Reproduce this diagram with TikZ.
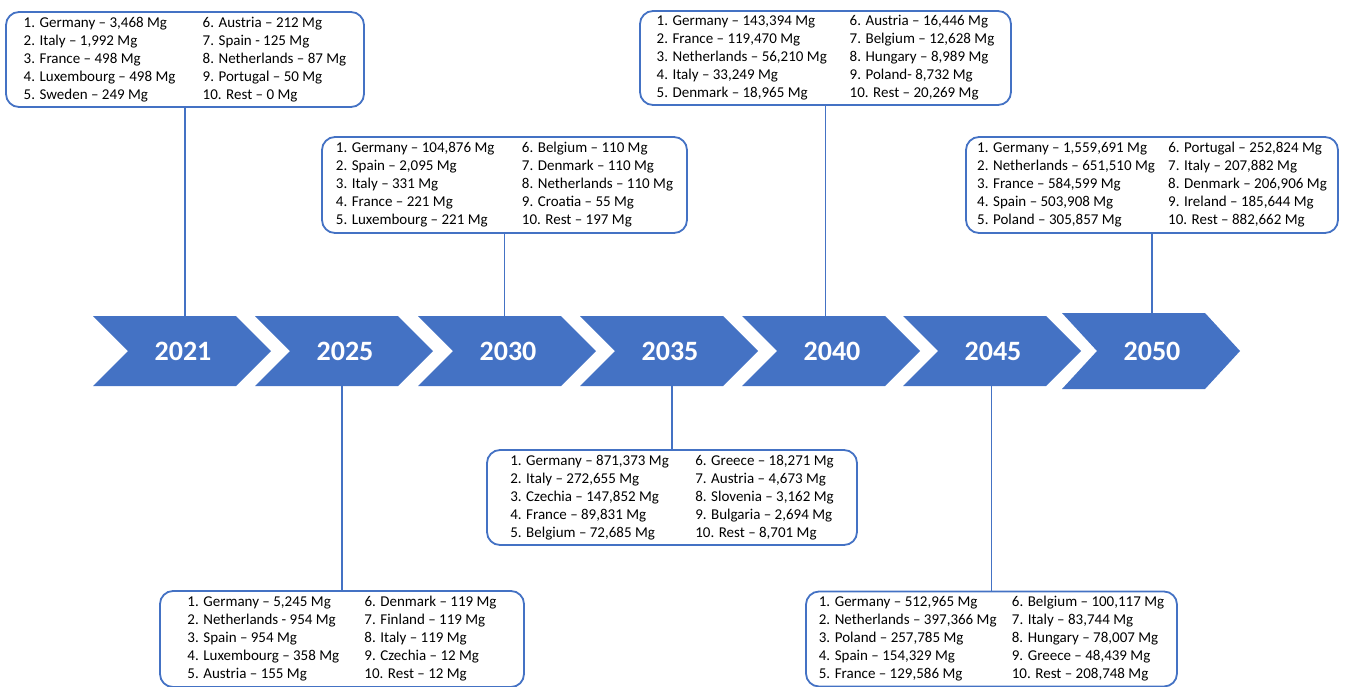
\documentclass[tikz,border=0pt]{standalone}
\usepackage{fontspec}
\setmainfont{Carlito}
\usepackage{array}
\definecolor{chevblue}{HTML}{4472C4}

% two columns of a yearly ranking
\newcommand{\ranking}[2]{%
  \begin{tabular}{@{}p{#1pt}@{}l@{}}#2\end{tabular}}

\tikzset{
  chevron/.style={fill=chevblue},
  yearlabel/.style={minimum width=177pt, minimum height=70pt, inner sep=0pt,
    text=white, font=\fontsize{28}{30}\selectfont\bfseries},
  listbox/.style={draw=chevblue, line width=1.8pt, rounded corners=13pt,
    fill=white, inner sep=0pt, font=\fontsize{15}{18}\selectfont},
  link/.style={draw=chevblue, line width=1.8pt}
}

\begin{document}
\begin{tikzpicture}[x=1pt, y=-1pt]
	\useasboundingbox (0,0) rectangle (1347,686);

	% Draw the arrows of the timeline
	\foreach \yr/\x/\t/\h in {2021/93/316/70, 2025/255/316/70, 2030/418/316/70,
		2035/580/316/70, 2040/742/316/70, 2045/903/316/70, 2050/1062/313/76} {
		\fill[chevron] (\x,\t) -- ++(143,0) -- ++(35,\h/2) -- ++(-35,\h/2)
			-- ++(-143,0) -- ++(35,-\h/2) -- cycle;
		\node[yearlabel, minimum height=\h] (c\yr) at (\x+90,\t+\h/2) {\yr};
	}

	% Boxes above the timeline
	\node[listbox, minimum width=358, minimum height=95] (b2021) at (185,59.5) {\ranking{179}{
		1. Germany -- 3,468 Mg & 6. Austria -- 212 Mg\\
		2. Italy -- 1,992 Mg & 7. Spain - 125 Mg\\
		3. France -- 498 Mg & 8. Netherlands -- 87 Mg\\
		4. Luxembourg -- 498 Mg & 9. Portugal -- 50 Mg\\
		5. Sweden -- 249 Mg & 10. Rest -- 0 Mg}};
	\node[listbox, minimum width=365, minimum height=96] (b2030) at (504.5,185) {\ranking{186}{
		1. Germany -- 104,876 Mg & 6. Belgium -- 110 Mg\\
		2. Spain -- 2,095 Mg & 7. Denmark -- 110 Mg\\
		3. Italy -- 331 Mg & 8. Netherlands -- 110 Mg\\
		4. France -- 221 Mg & 9. Croatia -- 55 Mg\\
		5. Luxembourg -- 221 Mg & 10. Rest -- 197 Mg}};
	\node[listbox, minimum width=371, minimum height=94] (b2040) at (825.5,58) {\ranking{193}{
		1. Germany -- 143,394 Mg & 6. Austria -- 16,446 Mg\\
		2. France -- 119,470 Mg & 7. Belgium -- 12,628 Mg\\
		3. Netherlands -- 56,210 Mg & 8. Hungary -- 8,989 Mg\\
		4. Italy -- 33,249 Mg & 9. Poland- 8,732 Mg\\
		5. Denmark -- 18,965 Mg & 10. Rest -- 20,269 Mg}};
	\node[listbox, minimum width=372, minimum height=96] (b2050) at (1152,185) {\ranking{191}{
		1. Germany -- 1,559,691 Mg & 6. Portugal -- 252,824 Mg\\
		2. Netherlands -- 651,510 Mg & 7. Italy -- 207,882 Mg\\
		3. France -- 584,599 Mg & 8. Denmark -- 206,906 Mg\\
		4. Spain -- 503,908 Mg & 9. Ireland -- 185,644 Mg\\
		5. Poland -- 305,857 Mg & 10. Rest -- 882,662 Mg}};

	% Boxes below the timeline
	\node[listbox, minimum width=364, minimum height=96] (b2025) at (342,639) {\ranking{177}{
		1. Germany -- 5,245 Mg & 6. Denmark -- 119 Mg\\
		2. Netherlands - 954 Mg & 7. Finland -- 119 Mg\\
		3. Spain -- 954 Mg & 8. Italy -- 119 Mg\\
		4. Luxembourg -- 358 Mg & 9. Czechia -- 12 Mg\\
		5. Austria -- 155 Mg & 10. Rest -- 12 Mg}};
	\node[listbox, minimum width=370, minimum height=95] (b2035) at (672,497.5) {\ranking{185}{
		1. Germany -- 871,373 Mg & 6. Greece -- 18,271 Mg\\
		2. Italy -- 272,655 Mg & 7. Austria -- 4,673 Mg\\
		3. Czechia -- 147,852 Mg & 8. Slovenia -- 3,162 Mg\\
		4. France -- 89,831 Mg & 9. Bulgaria -- 2,694 Mg\\
		5. Belgium -- 72,685 Mg & 10. Rest -- 8,701 Mg}};
	\node[listbox, minimum width=371, minimum height=95] (b2045) at (991.5,639) {\ranking{193}{
		1. Germany -- 512,965 Mg & 6. Belgium -- 100,117 Mg\\
		2. Netherlands -- 397,366 Mg & 7. Italy -- 83,744 Mg\\
		3. Poland -- 257,785 Mg & 8. Hungary -- 78,007 Mg\\
		4. Spain -- 154,329 Mg & 9. Greece -- 48,439 Mg\\
		5. France -- 129,586 Mg & 10. Rest -- 208,748 Mg}};

	% Connect each box to its year
	\foreach \yr in {2021,2030,2040,2050}
		\draw[link] (b\yr.south) -- (b\yr.south |- c\yr.north);
	\foreach \yr in {2025,2035,2045}
		\draw[link] (b\yr.north) -- (b\yr.north |- c\yr.south);
\end{tikzpicture}
\end{document}
